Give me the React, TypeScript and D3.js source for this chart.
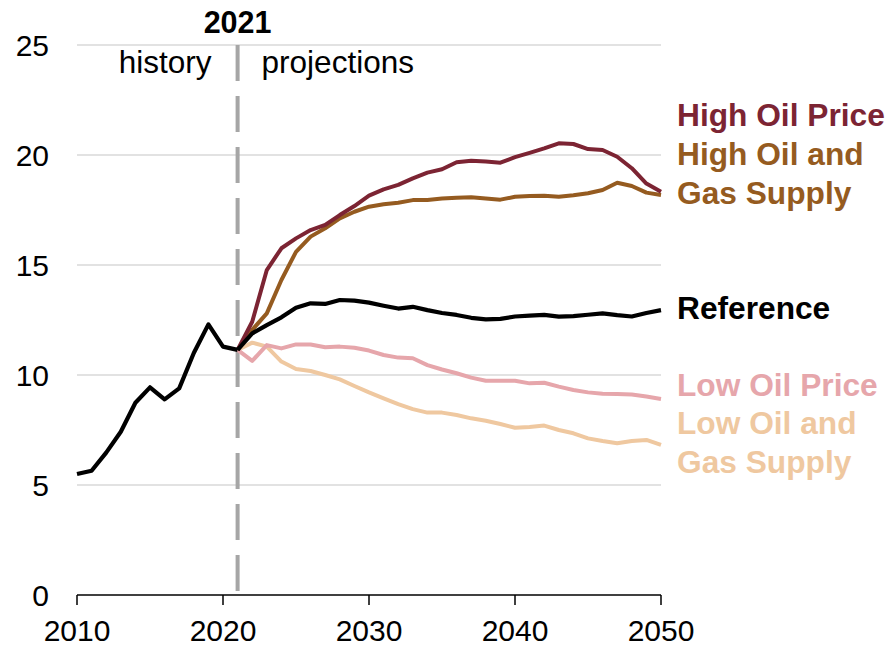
import React from "react";
import * as d3 from "d3";

// history 2010-2021
const histYears = d3.range(2010, 2022);
const history = [5.5, 5.65, 6.47, 7.42, 8.74, 9.44, 8.89, 9.39, 11.0, 12.3, 11.29, 11.14];

// projections 2021-2050
const projYears = d3.range(2021, 2051);
const reference = [11.14, 11.89, 12.27, 12.62, 13.06, 13.26, 13.23, 13.41, 13.38, 13.29, 13.15, 13.02, 13.1, 12.95, 12.82, 12.73, 12.6, 12.53, 12.55, 12.66, 12.7, 12.73, 12.65, 12.68, 12.74, 12.8, 12.72, 12.66, 12.82, 12.95];
const highOilPrice = [11.14, 12.42, 14.77, 15.76, 16.21, 16.59, 16.82, 17.27, 17.68, 18.15, 18.44, 18.64, 18.94, 19.2, 19.35, 19.67, 19.74, 19.7, 19.65, 19.9, 20.1, 20.3, 20.53, 20.5, 20.27, 20.23, 19.92, 19.4, 18.7, 18.33];
const highOilGas = [11.14, 12.05, 12.8, 14.32, 15.6, 16.29, 16.67, 17.12, 17.42, 17.65, 17.76, 17.83, 17.95, 17.95, 18.02, 18.06, 18.08, 18.02, 17.97, 18.1, 18.14, 18.15, 18.1, 18.17, 18.26, 18.41, 18.74, 18.59, 18.29, 18.18];
const lowOilPrice = [11.14, 10.64, 11.36, 11.21, 11.39, 11.39, 11.26, 11.29, 11.24, 11.11, 10.91, 10.79, 10.76, 10.45, 10.25, 10.08, 9.88, 9.74, 9.74, 9.74, 9.62, 9.65, 9.47, 9.32, 9.21, 9.15, 9.14, 9.11, 9.02, 8.91];
const lowOilGas = [11.14, 11.47, 11.29, 10.61, 10.27, 10.18, 10.0, 9.8, 9.5, 9.21, 8.94, 8.68, 8.45, 8.29, 8.29, 8.18, 8.03, 7.92, 7.77, 7.6, 7.64, 7.7, 7.5, 7.35, 7.12, 7.0, 6.9, 7.0, 7.05, 6.82];

const yTicks = [0, 5, 10, 15, 20, 25];
const xTicks = [2010, 2020, 2030, 2040, 2050];
const splitYear = 2021;

const FONT = "'Liberation Sans', Arial, sans-serif";

export default function App() {
  const width = 889;
  const height = 647;

  const x = d3.scaleLinear().domain([2010, 2050]).range([77, 661]);
  const y = d3.scaleLinear().domain([0, 25]).range([595, 45]);

  const line = d3
    .line<[number, number]>()
    .x((d) => x(d[0]))
    .y((d) => y(d[1]));

  const pair = (vals: number[], yrs: number[]) => vals.map((v, i) => [yrs[i], v] as [number, number]);

  // drawn bottom to top
  const series = [
    { name: "lowGas", data: lowOilGas, color: "#efc8a0", w: 4 },
    { name: "lowPrice", data: lowOilPrice, color: "#e6a6ab", w: 4 },
    { name: "highGas", data: highOilGas, color: "#955b20", w: 4 },
    { name: "highPrice", data: highOilPrice, color: "#7c2433", w: 4 },
    { name: "reference", data: reference, color: "#000000", w: 4.2 },
  ];

  const labels = [
    { lines: ["High Oil Price"], y0: 126, color: "#7c2433" },
    { lines: ["High Oil and", "Gas Supply"], y0: 165, color: "#955b20" },
    { lines: ["Reference"], y0: 319, color: "#000000" },
    { lines: ["Low Oil Price"], y0: 396, color: "#e6a6ab" },
    { lines: ["Low Oil and", "Gas Supply"], y0: 434, color: "#efc8a0" },
  ];

  return (
    <svg
      width={width}
      height={height}
      style={{ position: "absolute", left: 0, top: 0, background: "#fff" }}
      fontFamily={FONT}
    >
      {/* gridlines */}
      {yTicks.filter((t) => t > 0).map((t) => (
        <line key={t} x1={x(2010)} x2={x(2050)} y1={y(t)} y2={y(t)} stroke="#d9d9d9" strokeWidth={1.5} />
      ))}
      {/* y labels */}
      {yTicks.map((t) => (
        <text key={t} x={49} y={y(t) + 11} textAnchor="end" fontSize={30} fill="#000">
          {t}
        </text>
      ))}

      {/* history / projections divider */}
      <line
        x1={x(splitYear)}
        x2={x(splitYear)}
        y1={y(25)}
        y2={y(0)}
        stroke="#a6a6a6"
        strokeWidth={4}
        strokeDasharray="36 15"
      />
      <text x={x(splitYear)} y={33} textAnchor="middle" fontSize={30.5} fontWeight="bold">
        2021
      </text>
      <text x={x(splitYear) - 26} y={73} textAnchor="end" fontSize={31.5}>
        history
      </text>
      <text x={x(splitYear) + 24} y={73} textAnchor="start" fontSize={31.5}>
        projections
      </text>

      {/* x axis */}
      <line x1={x(2010)} x2={x(2050)} y1={y(0)} y2={y(0)} stroke="#000" strokeWidth={1.5} />
      {xTicks.map((t) => (
        <g key={t}>
          <line x1={x(t)} x2={x(t)} y1={y(0)} y2={y(0) + 10} stroke="#000" strokeWidth={1.5} />
          <text x={x(t)} y={641} textAnchor="middle" fontSize={30}>
            {t}
          </text>
        </g>
      ))}

      {/* lines */}
      {series.map((s) => (
        <path
          key={s.name}
          d={line(pair(s.data, projYears)) || ""}
          fill="none"
          stroke={s.color}
          strokeWidth={s.w}
          strokeLinejoin="round"
        />
      ))}
      <path
        d={line(pair(history, histYears)) || ""}
        fill="none"
        stroke="#000"
        strokeWidth={4.2}
        strokeLinejoin="round"
      />

      {/* series labels */}
      {labels.map((l) =>
        l.lines.map((txt, i) => (
          <text key={txt + l.y0} x={677} y={l.y0 + i * 38.5} fontSize={31.7} fontWeight="bold" fill={l.color}>
            {txt}
          </text>
        ))
      )}
    </svg>
  );
}
